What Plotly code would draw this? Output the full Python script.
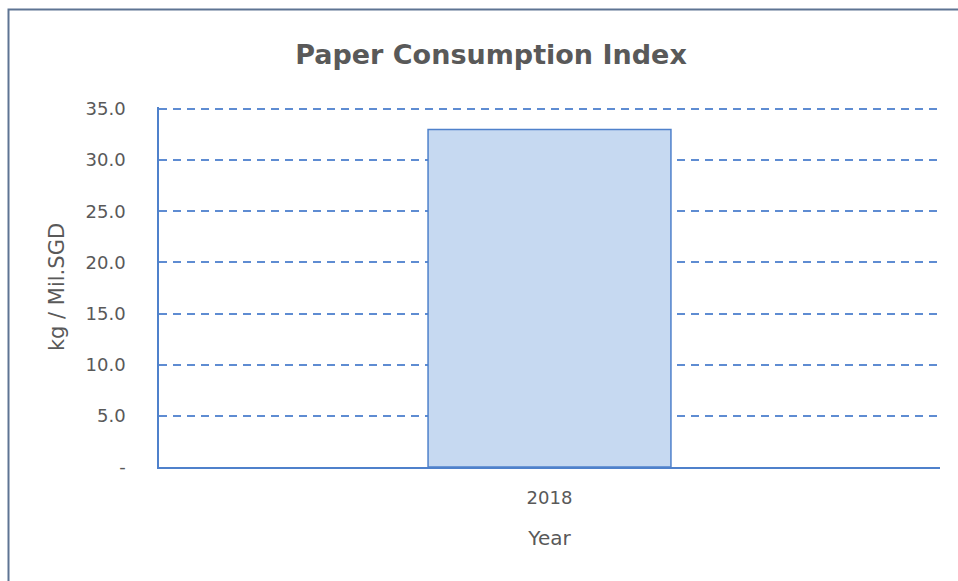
import plotly.graph_objects as go

categories = ["2018"]
values = [33.0]
ytick_vals = [0, 5, 10, 15, 20, 25, 30, 35]
ytick_text = ["-", "5.0", "10.0", "15.0", "20.0", "25.0", "30.0", "35.0"]

W, H = 958, 581
L, R, T, B = 159, 940, 107, 467
YMAX = 35.2

fig = go.Figure(go.Bar(
    x=categories, y=values, width=0.311,
    marker=dict(color="#C6D9F1", line=dict(color="#4F81CB", width=1.5)),
))

fnt = "DejaVu Sans, sans-serif"
fig.update_layout(
    width=W, height=H,
    margin=dict(l=L, r=W - R, t=T, b=H - B, pad=0),
    paper_bgcolor="white", plot_bgcolor="white",
    showlegend=False,
    font=dict(family=fnt, color="#595959", size=18),
    title=dict(text="<b>Paper Consumption Index</b>", x=491 / W, xref="container",
               y=1 - 55 / H, yref="container", xanchor="center", yanchor="middle",
               font=dict(size=27, color="#595959", family=fnt)),
    xaxis=dict(range=[-0.5, 0.5], showgrid=False, showline=True, linecolor="#4F81CB",
               linewidth=1.5, ticks="", ticklabelstandoff=14, tickfont=dict(size=18),
               title=dict(text="Year", standoff=24, font=dict(size=20))),
    yaxis=dict(range=[0, YMAX], tickvals=ytick_vals, ticktext=ytick_text,
               showgrid=True, gridcolor="#5E8CD2", gridwidth=1.5, griddash="8px,6px",
               showline=True, linecolor="#4F81CB", linewidth=1.5, ticks="",
               ticklabelstandoff=28, zeroline=False, tickfont=dict(size=18),
               title=dict(text="kg / Mil.SGD", standoff=15, font=dict(size=21))),
    shapes=[dict(type="rect", xref="paper", yref="paper",
                 x0=(8.5 - L) / (R - L), x1=(975 - L) / (R - L),
                 y0=(B - 600) / (B - T), y1=(B - 9.5) / (B - T),
                 line=dict(color="#5E7493", width=2), fillcolor="rgba(0,0,0,0)", layer="below")],
)

fig.write_html("out.html")
